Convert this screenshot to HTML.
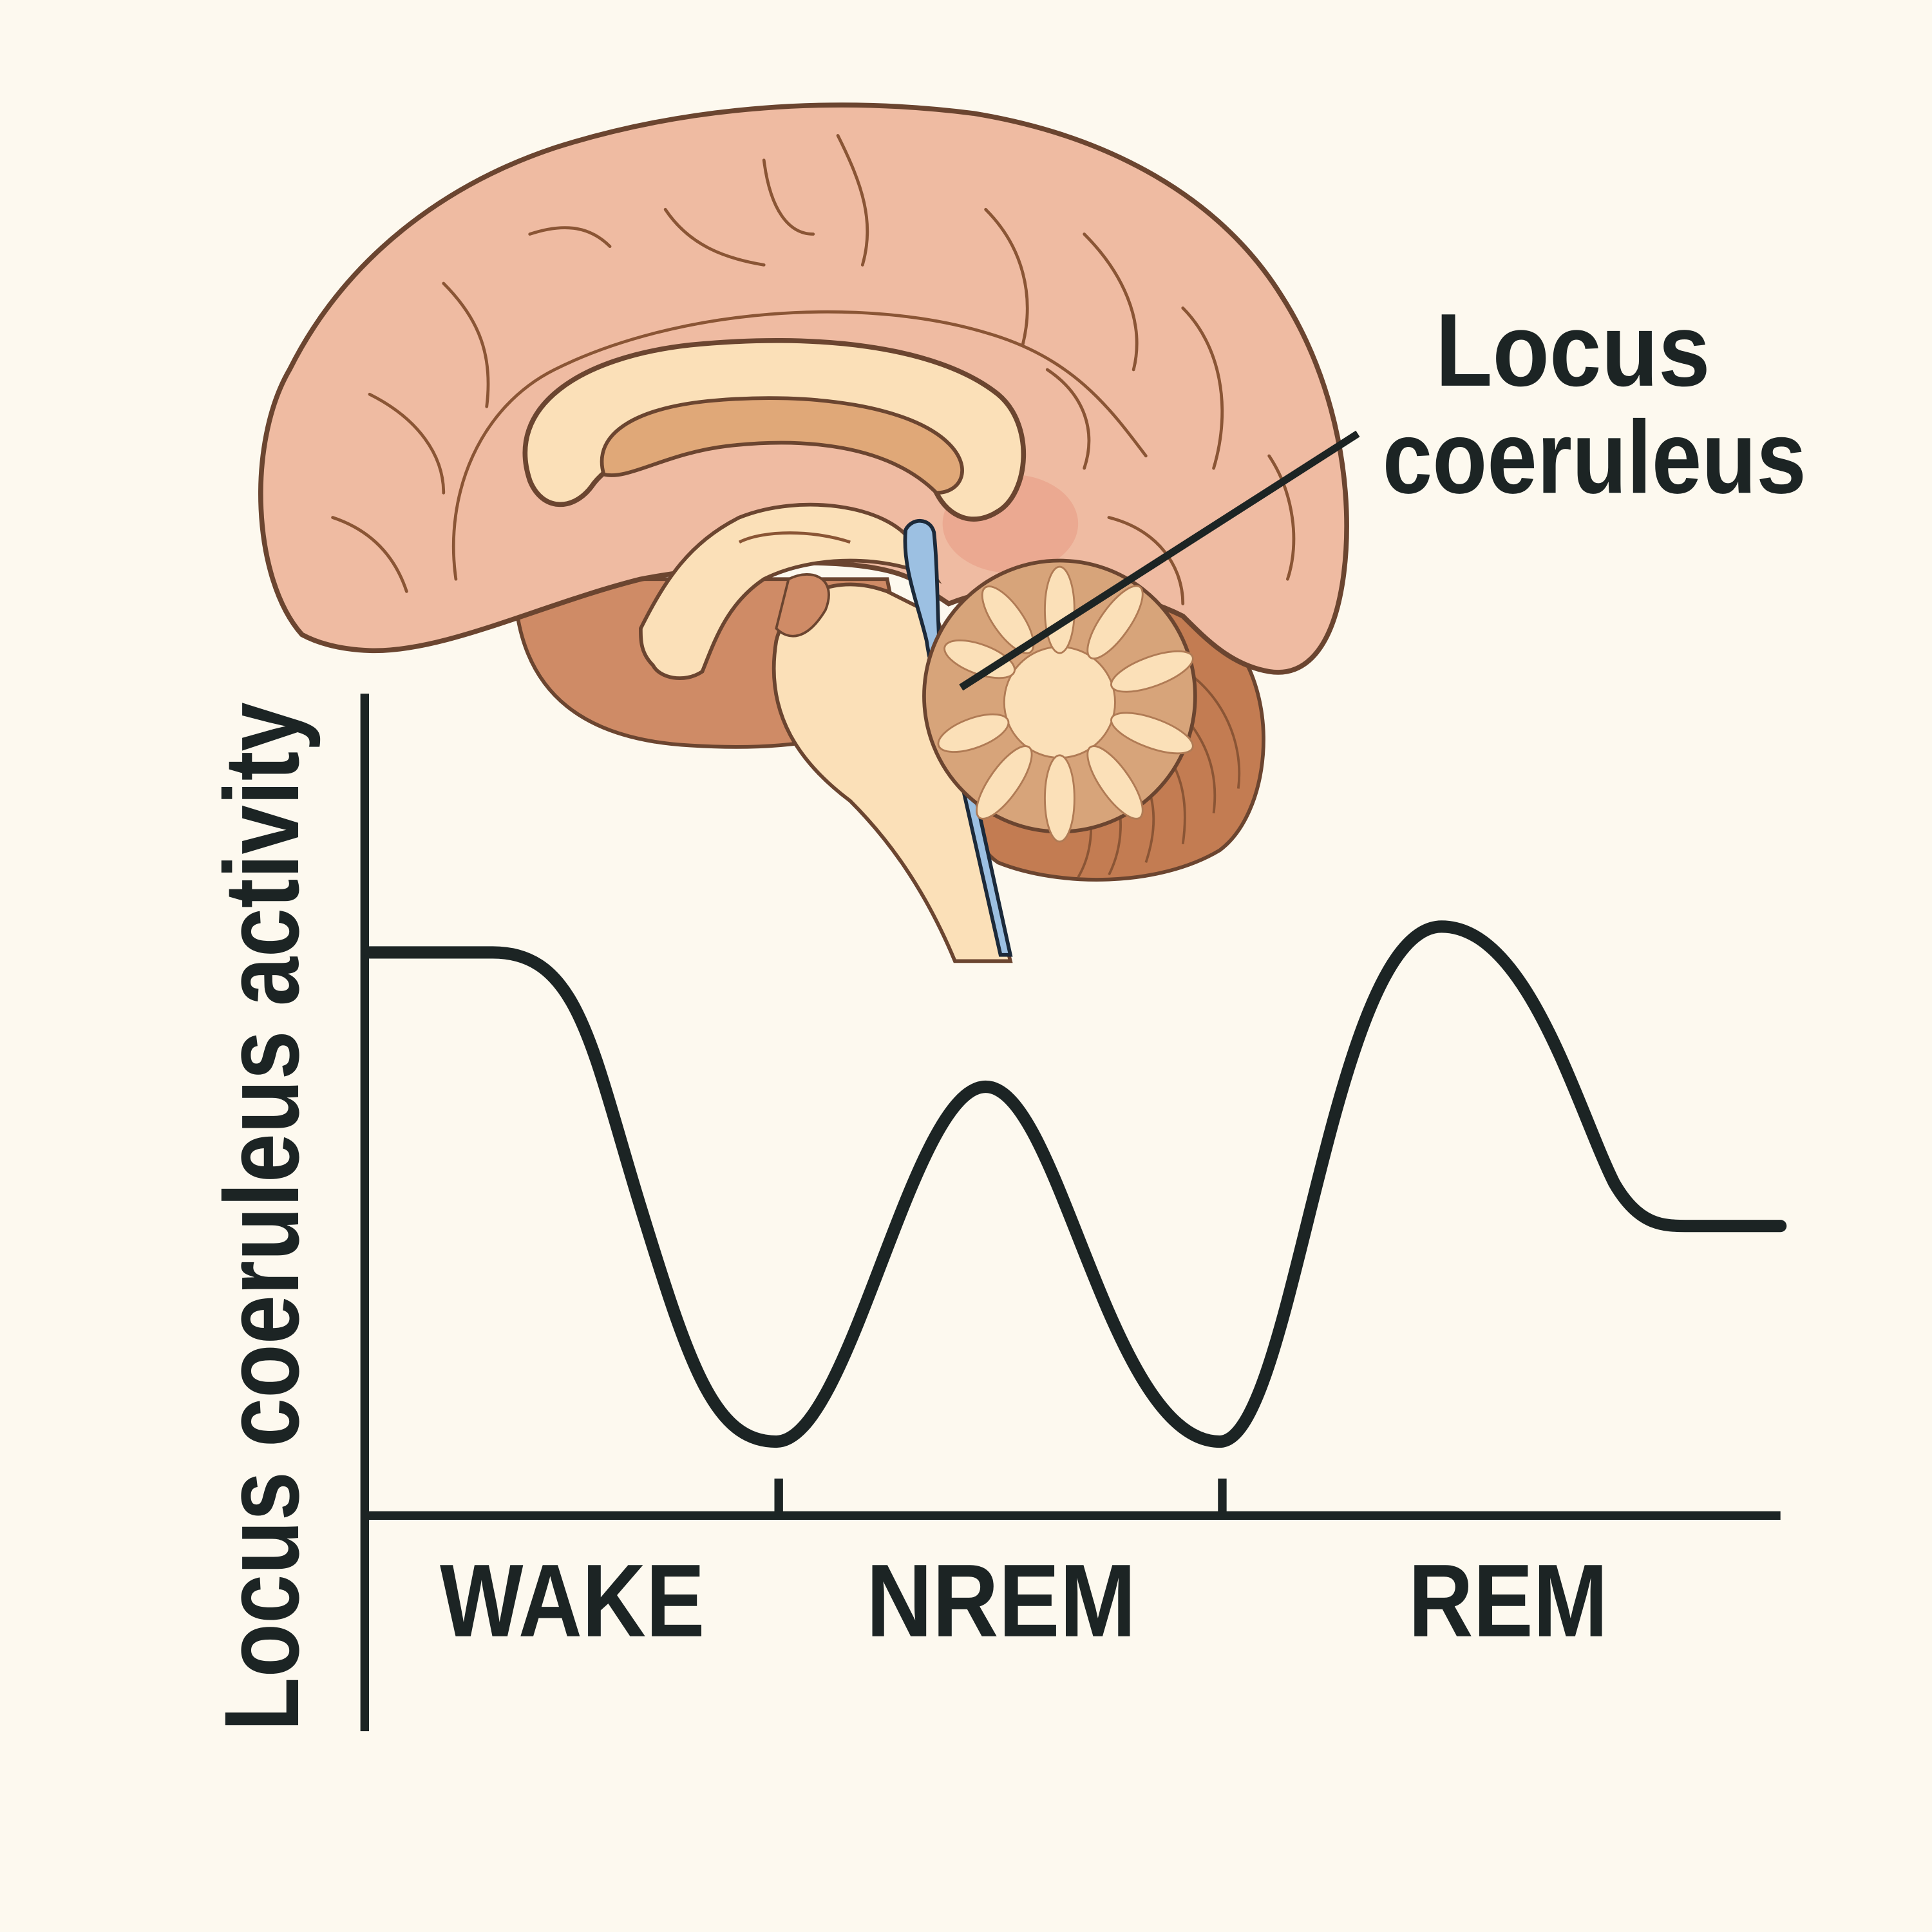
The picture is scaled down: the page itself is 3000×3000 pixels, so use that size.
<!DOCTYPE html>
<html><head><meta charset="utf-8"><style>
html,body{margin:0;padding:0;background:#fdf9ef}
svg{display:block}
text{font-family:"Liberation Sans",sans-serif;font-weight:bold;fill:#1c2424}
</style></head><body>
<svg width="3000" height="3000" viewBox="0 0 1568 1568" xmlns="http://www.w3.org/2000/svg">
<rect width="1568" height="1568" fill="#fdf9ef"/>
<path d="M420,500 C430,560 470,600 560,605 C640,610 700,600 740,570 L720,470 L440,470 Z" fill="#cf8b66" stroke="#6b4530" stroke-width="3"/>
<path d="M780,500 C850,470 960,480 1000,520 C1040,570 1030,660 990,690 C940,720 860,720 810,700 C780,680 760,600 780,500 Z" fill="#c37c52" stroke="#6b4530" stroke-width="3"/>
<g stroke="#8a5535" stroke-width="2" fill="none">
<path d="M955,540 C990,560 1010,600 1005,640"/><path d="M940,560 C975,590 990,620 985,660"/>
<path d="M930,590 C960,620 965,650 960,685"/><path d="M915,610 C940,640 940,670 930,700"/>
<path d="M900,630 C915,660 910,690 900,710"/><path d="M880,640 C890,670 885,695 875,712"/>
</g>
<path d="M245,515 C205,470 200,360 235,300 C280,210 360,150 450,120 C560,85 680,78 790,92 C900,110 990,160 1040,240 C1085,310 1100,400 1090,470 C1082,525 1060,550 1030,545 C1000,540 980,520 960,500 C900,470 820,470 770,490 L740,470 C700,450 600,455 520,470 C440,490 360,530 300,528 C275,527 258,522 245,515 Z" fill="#efbba2" stroke="#6b4530" stroke-width="4"/>
<ellipse cx="820" cy="425" rx="55" ry="40" fill="#e89c86" opacity="0.6"/>
<g stroke="#8a5535" stroke-width="2.5" fill="none" stroke-linecap="round">
<path d="M620,130 C625,170 640,190 660,190"/><path d="M680,110 C700,150 710,180 700,215"/>
<path d="M540,170 C560,200 590,210 620,215"/><path d="M430,190 C460,180 480,185 495,200"/>
<path d="M360,230 C390,260 400,290 395,330"/><path d="M300,320 C340,340 360,370 360,400"/>
<path d="M270,420 C300,430 320,450 330,480"/><path d="M800,170 C830,200 840,240 830,280"/>
<path d="M880,190 C910,220 930,260 920,300"/><path d="M960,250 C990,280 1000,330 985,380"/>
<path d="M850,300 C880,320 890,350 880,380"/><path d="M1030,370 C1050,400 1055,440 1045,470"/>
<path d="M370,470 C360,400 390,330 450,300 C550,250 700,240 800,270 C870,290 900,330 930,370"/>
<path d="M900,420 C940,430 960,460 960,490"/>
</g>
<path d="M430,390 C410,330 470,290 560,280 C660,270 760,280 810,320 C840,345 835,400 810,415 C790,428 770,420 760,400 C740,360 660,340 580,350 C520,358 490,380 480,395 C465,415 440,415 430,390 Z" fill="#fbe0b8" stroke="#6b4530" stroke-width="4"/>
<path d="M490,385 C480,350 520,330 580,325 C660,318 740,330 770,360 C790,380 780,400 760,400 C720,360 650,355 590,362 C540,368 510,390 490,385 Z" fill="#e0a878" stroke="#6b4530" stroke-width="3"/>
<path d="M520,510 C540,470 560,440 600,420 C650,400 720,410 740,440 L760,470 C720,450 660,450 620,470 C590,490 580,520 570,545 C555,555 535,550 530,540 C520,530 520,520 520,510 Z" fill="#fbe0b8" stroke="#6b4530" stroke-width="3"/>
<path d="M600,440 C620,430 660,430 690,440" stroke="#8a5535" stroke-width="2.5" fill="none"/>
<path d="M630,520 C640,480 680,465 720,480 L760,500 C780,560 790,640 800,700 L820,780 L775,780 C750,720 720,680 690,650 C650,620 620,580 630,520 Z" fill="#fbe0b8" stroke="#6b4530" stroke-width="3"/>
<path d="M640,470 C660,460 680,470 670,495 C655,520 640,520 630,510 Z" fill="#cf8b66" stroke="#6b4530" stroke-width="2"/>
<path d="M735,430 C740,420 755,420 758,432 C762,470 760,520 765,545 C770,555 785,560 790,565 L775,570 L820,775 L812,775 L768,580 C760,560 755,540 752,520 C745,490 732,460 735,430 Z" fill="#9cc0e2" stroke="#1c2a3a" stroke-width="3"/>
<circle cx="860" cy="565" r="110" fill="#d7a47a" stroke="#6b4530" stroke-width="3"/>
<g fill="#fbe0b8" stroke="#b07b55" stroke-width="1.5">
<circle cx="860" cy="570" r="45"/>
<ellipse cx="860" cy="495" rx="12" ry="35"/><ellipse cx="905" cy="505" rx="12" ry="35" transform="rotate(35 905 505)"/>
<ellipse cx="935" cy="545" rx="12" ry="35" transform="rotate(70 935 545)"/><ellipse cx="935" cy="595" rx="12" ry="35" transform="rotate(110 935 595)"/>
<ellipse cx="905" cy="635" rx="12" ry="35" transform="rotate(145 905 635)"/><ellipse cx="860" cy="648" rx="12" ry="35"/>
<ellipse cx="815" cy="635" rx="12" ry="35" transform="rotate(35 815 635)"/><ellipse cx="790" cy="595" rx="12" ry="30" transform="rotate(70 790 595)"/>
<ellipse cx="795" cy="535" rx="12" ry="30" transform="rotate(110 795 535)"/><ellipse cx="818" cy="503" rx="12" ry="32" transform="rotate(145 818 503)"/>
</g>
<line x1="1102" y1="352" x2="780" y2="558" stroke="#1c2424" stroke-width="6"/>
<text x="1165" y="313" font-size="84" textLength="223" lengthAdjust="spacingAndGlyphs">Locus</text>
<text x="1122" y="400" font-size="84" textLength="344" lengthAdjust="spacingAndGlyphs">coeruleus</text>
<g stroke="#1c2424" stroke-width="7" fill="none">
<line x1="296" y1="563" x2="296" y2="1405"/>
<line x1="296" y1="1230" x2="1445" y2="1230"/>
<line x1="632" y1="1200" x2="632" y2="1230"/>
<line x1="992" y1="1200" x2="992" y2="1230"/>
</g>
<path d="M300,773 L400,773 C470,773 480,850 520,980 C560,1110 580,1170 630,1170 C690,1170 740,882 800,882 C860,882 900,1170 990,1170 C1050,1170 1080,752 1170,752 C1240,752 1280,900 1310,960 C1330,995 1350,995 1370,995 L1445,995" fill="none" stroke="#1c2424" stroke-width="10" stroke-linecap="round" stroke-linejoin="round"/>
<text x="357" y="1328" font-size="84" textLength="215" lengthAdjust="spacingAndGlyphs">WAKE</text>
<text x="703" y="1328" font-size="84" textLength="219" lengthAdjust="spacingAndGlyphs">NREM</text>
<text x="1143" y="1328" font-size="84" textLength="162" lengthAdjust="spacingAndGlyphs">REM</text>
<text transform="translate(242,1405) rotate(-90)" font-size="86" textLength="835" lengthAdjust="spacingAndGlyphs">Locus coeruleus activity</text>
</svg>
</body></html>
